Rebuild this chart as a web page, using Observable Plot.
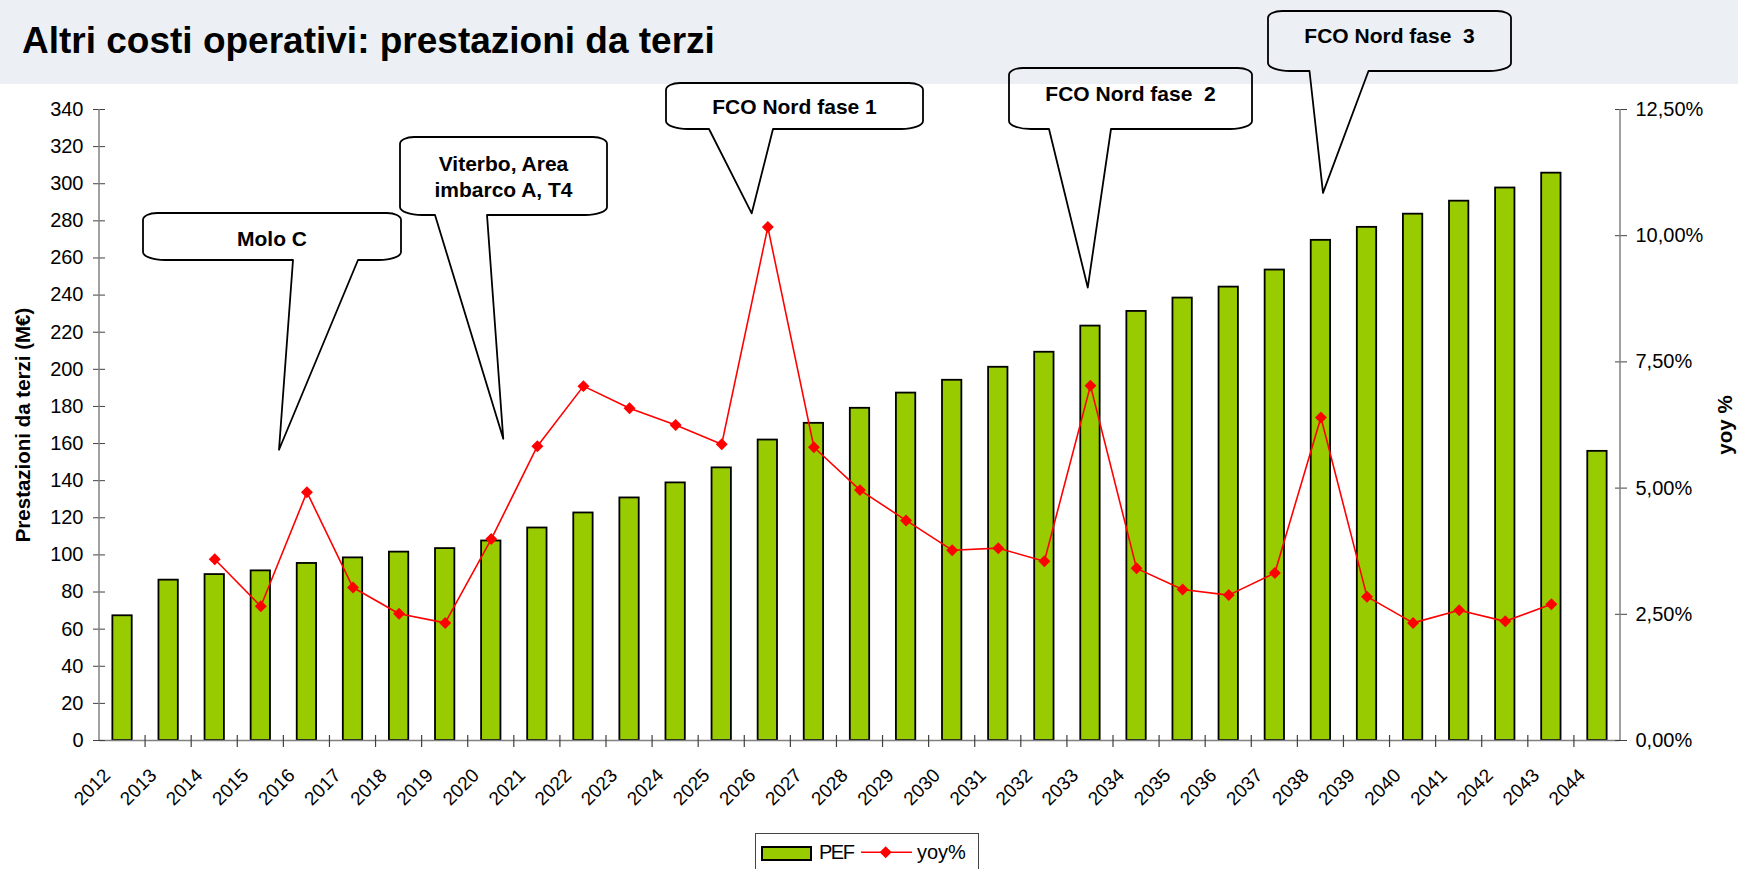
<!DOCTYPE html>
<html>
<head>
<meta charset="utf-8">
<script src="https://cdn.jsdelivr.net/npm/d3@7"></script>
<script src="https://cdn.jsdelivr.net/npm/@observablehq/plot@0.6"></script>
<style>
html,body{margin:0;padding:0;background:#fff;}
body{width:1738px;height:869px;overflow:hidden;position:relative;font-family:"Liberation Sans",Arial,sans-serif;}
#band{position:absolute;left:0;top:0;width:1738px;height:84px;background:#ECF0F5;}
#title{position:absolute;left:22px;top:21.7px;margin:0;font-size:37px;line-height:37px;font-weight:bold;color:#000;white-space:nowrap;}
#chart{position:absolute;left:0;top:0;}
#legend{position:absolute;left:755px;top:833px;width:224px;height:37px;box-sizing:border-box;border:1px solid #444;background:#fff;}
#legend svg{position:absolute;left:-1px;top:-1px;overflow:visible;font-family:"Liberation Sans",Arial,sans-serif;}
</style>
</head>
<body>
<div id="band"></div>
<h1 id="title">Altri costi operativi: prestazioni da terzi</h1>
<div id="chart"></div>
<div id="legend">
  <svg width="224" height="37">
    <rect x="7" y="14" width="49" height="13" fill="#99CC00" stroke="#000" stroke-width="2"></rect>
    <text x="64" y="26" font-size="20" letter-spacing="-1.5">PEF</text>
    <line x1="106" x2="157" y1="19.3" y2="19.3" stroke="#FF0000" stroke-width="1.5"></line>
    <path d="M130.7,13.3L136.7,19.3L130.7,25.3L124.7,19.3Z" fill="#FF0000"></path>
    <text x="162" y="26" font-size="20">yoy%</text>
  </svg>
</div>
<script>
// ---- data ----
const years = ["2012","2013","2014","2015","2016","2017","2018","2019","2020","2021","2022",
  "2023","2024","2025","2026","2027","2028","2029","2030","2031","2032","2033","2034",
  "2035","2036","2037","2038","2039","2040","2041","2042","2043","2044"];
const pef = [67.2, 86.4, 89.4, 91.4, 95.4, 98.4, 101.5, 103.4, 107.5, 114.5, 122.6,
  130.7, 138.8, 146.9, 161.9, 170.9, 179.0, 187.2, 194.1, 201.1, 209.2, 223.3, 231.2,
  238.4, 244.3, 253.5, 269.5, 276.5, 283.6, 290.6, 297.7, 305.7, 155.8];
const yoyYears = ["2014","2015","2016","2017","2018","2019","2020","2021","2022",
  "2023","2024","2025","2026","2027","2028","2029","2030","2031","2032","2033","2034",
  "2035","2036","2037","2038","2039","2040","2041","2042","2043"];
const yoy = [3.59, 2.66, 4.92, 3.03, 2.51, 2.33, 3.99, 5.83, 7.02,
  6.58, 6.25, 5.87, 10.17, 5.81, 4.96, 4.36, 3.77, 3.81, 3.55, 7.03, 3.41,
  2.99, 2.88, 3.32, 6.40, 2.85, 2.33, 2.58, 2.36, 2.70];
const leftTicks = [0,20,40,60,80,100,120,140,160,180,200,220,240,260,280,300,320,340];
const rightTicks = [0, 2.5, 5, 7.5, 10, 12.5];
const leftTitle = "Prestazioni da terzi (M€)";
const rightTitle = "yoy %";
const calloutText = [["Molo C"], ["Viterbo, Area", "imbarco A, T4"], ["FCO Nord fase 1"], ["FCO Nord fase  2"], ["FCO Nord fase  3"]];
const calloutYear = ["2016", "2020", "2026", "2033", "2038"];
const calloutValue = [156.4, 162.3, 283.8, 243.8, 294.8];

// ---- layout ----
const calloutLayout = [
  {box: [143, 213, 401, 260], base: [293, 358], tipDx: -27.4, baselines: [246]},
  {box: [400, 137, 607, 215], base: [435, 487], tipDx: 12.5, baselines: [171, 197]},
  {box: [666, 83, 923, 129], base: [709, 773], tipDx: -15.6, baselines: [114]},
  {box: [1009, 68, 1252, 129], base: [1049, 1111], tipDx: -2.2, baselines: [101]},
  {box: [1268, 11, 1511, 71], base: [1309.5, 1368.5], tipDx: 2.6, baselines: [43]}
];

const yMax = 340, pMax = 12.5, k = yMax / pMax;
const pefData = years.map((year, i) => ({year, pef: pef[i]}));
const yoyData = yoyYears.map((year, i) => ({year, yoy: yoy[i]}));
const fmtPct = v => (v / k).toFixed(2).replace(".", ",") + "%";

const chart = Plot.plot({
  width: 1738, height: 869,
  marginLeft: 99, marginRight: 118, marginTop: 109, marginBottom: 129,
  style: {background: "transparent", fontFamily: "'Liberation Sans', Arial, sans-serif", fontSize: "20px", color: "#000", overflow: "visible"},
  x: {type: "band", domain: years, paddingInner: 0.58, paddingOuter: 0.29, round: false, axis: null},
  y: {domain: [0, yMax], axis: null},
  marks: [
    Plot.barY(pefData, {x: "year", y: "pef", fill: "#99CC00", stroke: "#000", strokeWidth: 1.8}),
    Plot.ruleY([0], {stroke: "#808080", strokeWidth: 1.5}),
    Plot.axisY({ticks: leftTicks, tickSize: 12, dx: 6, tickPadding: 10, fontSize: 20, stroke: "#404040", fill: "#000", label: null}),
    Plot.axisY({anchor: "right", ticks: rightTicks.map(p => p * k), tickFormat: fmtPct, tickSize: 12, dx: -6, tickPadding: 9, fontSize: 20, stroke: "#404040", fill: "#000", label: null}),
    Plot.text(years, {x: d => d, frameAnchor: "bottom", text: d => d, rotate: -45, textAnchor: "end", lineAnchor: "bottom", dx: -11, dy: 36, fontSize: 19, fill: "#000"}),
    Plot.text([leftTitle], {frameAnchor: "left", text: d => d, rotate: -90, textAnchor: "middle", lineAnchor: "bottom", dx: -70, fontSize: 20.5, fontWeight: "bold", fill: "#000"}),
    Plot.text([rightTitle], {frameAnchor: "right", text: d => d, rotate: -90, textAnchor: "middle", lineAnchor: "bottom", dx: 111, fontSize: 20.5, fontWeight: "bold", fill: "#000"}),
    Plot.line(yoyData, {x: "year", y: d => d.yoy * k, stroke: "#FF0000", strokeWidth: 1.6}),
    Plot.dot(yoyData, {x: "year", y: d => d.yoy * k, symbol: "diamond2", r: 5.4, fill: "#FF0000", stroke: "none"})
  ]
});
document.getElementById("chart").append(chart);

// ---- axis lines, category ticks and callouts, placed with the plot's scales ----
const sx = chart.scale("x"), sy = chart.scale("y");
const bw = sx.bandwidth;
const step = sx.apply(years[1]) - sx.apply(years[0]);
const cx = y => sx.apply(y) + bw / 2;
const yb = sy.apply(0), yt = sy.apply(yMax);
const xl = cx(years[0]) - step / 2, xr = cx(years[years.length - 1]) + step / 2;
const svg = d3.select(chart);
const g = svg.append("g");
g.append("line").attr("x1", xl).attr("x2", xl).attr("y1", yt).attr("y2", yb).attr("stroke", "#808080").attr("stroke-width", 1.5);
g.append("line").attr("x1", xr).attr("x2", xr).attr("y1", yt).attr("y2", yb).attr("stroke", "#808080").attr("stroke-width", 1.5);
years.slice(1).forEach(y => {
  const x = cx(y) - step / 2;
  g.append("line").attr("x1", x).attr("x2", x).attr("y1", yb - 5).attr("y2", yb + 7).attr("stroke", "#404040").attr("stroke-width", 1.2);
});

function calloutPath([x0, y0, x1, y1], [bl, br], [tx, ty]) {
  const rt = 14, rty = 7, rb = 22, rby = 8;
  return `M${x0 + rt},${y0}H${x1 - rt}A${rt},${rty} 0 0 1 ${x1},${y0 + rty}V${y1 - rby}` +
    `A${rb},${rby} 0 0 1 ${x1 - rb},${y1}H${br}L${tx},${ty}L${bl},${y1}H${x0 + rb}` +
    `A${rb},${rby} 0 0 1 ${x0},${y1 - rby}V${y0 + rty}A${rt},${rty} 0 0 1 ${x0 + rt},${y0}Z`;
}
const cg = svg.append("g");
calloutLayout.forEach((L, i) => {
  const tip = [cx(calloutYear[i]) + L.tipDx, sy.apply(calloutValue[i])];
  cg.append("path").attr("d", calloutPath(L.box, L.base, tip))
    .attr("fill", "none").attr("stroke", "#000").attr("stroke-width", 1.8).attr("stroke-linejoin", "round");
  const mx = (L.box[0] + L.box[2]) / 2;
  calloutText[i].forEach((t, j) => {
    cg.append("text").attr("x", mx).attr("y", L.baselines[j]).attr("text-anchor", "middle")
      .attr("font-size", 21).attr("font-weight", "bold").attr("fill", "#000")
      .style("white-space", "pre").text(t);
  });
});
</script>
</body>
</html>
